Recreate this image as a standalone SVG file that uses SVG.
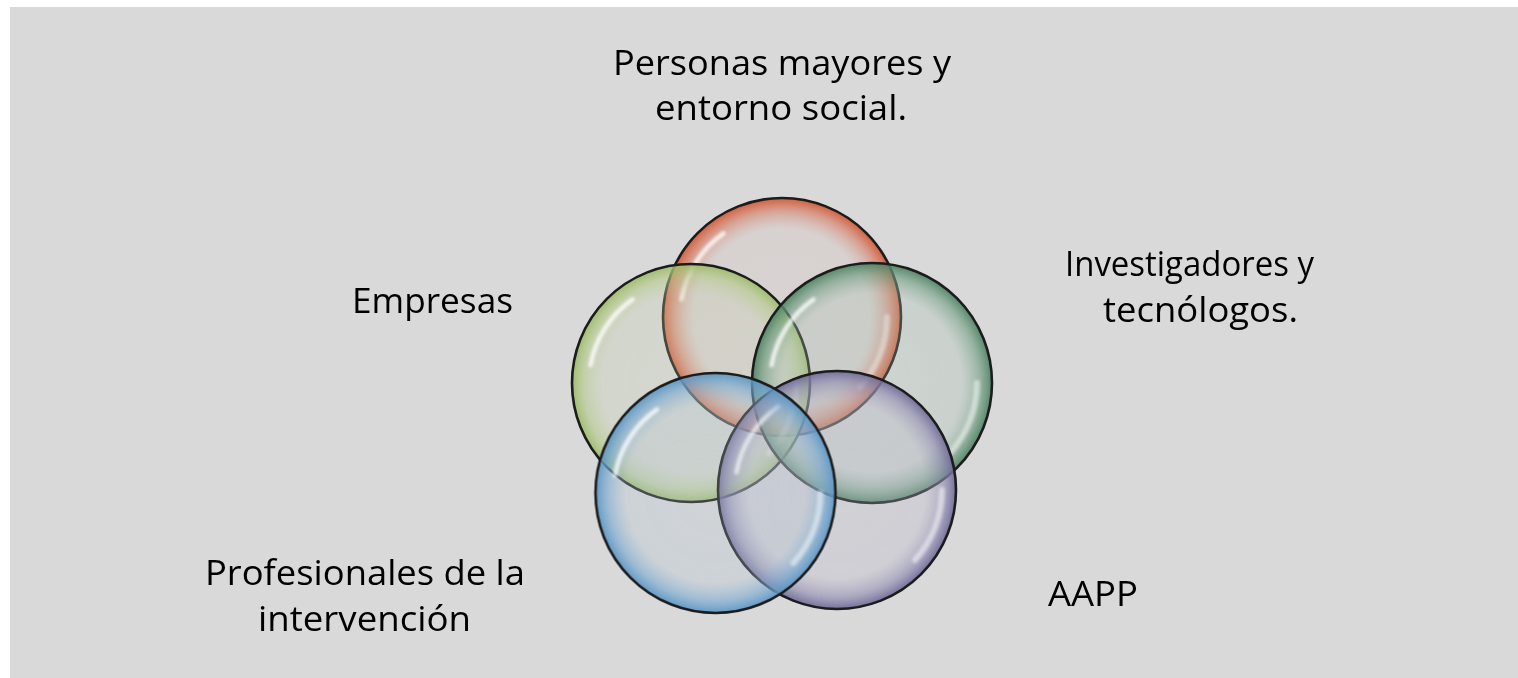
<svg xmlns="http://www.w3.org/2000/svg" width="1518" height="678" viewBox="0 0 1518 678">
<style>
.lbl{font-family:"Open Sans","Liberation Sans",sans-serif;font-size:35px;fill:#000}
.ring{stroke:#1c1c1c;stroke-width:2.6}
.hl1{fill:none;stroke:#fff;stroke-width:4.5;stroke-linecap:round;opacity:.8}
.hl2{fill:none;stroke:#fff;stroke-width:6;stroke-linecap:round;opacity:.5}
</style>
<defs>
<filter id="blur" x="-20%" y="-20%" width="140%" height="140%"><feGaussianBlur stdDeviation="1.8"/></filter>
<radialGradient id="gRed"><stop offset="0" stop-color="#d3bdb8" stop-opacity=".2"/><stop offset=".74" stop-color="#d3bdb8" stop-opacity=".28"/><stop offset=".9" stop-color="#d8745a" stop-opacity=".6"/><stop offset="1" stop-color="#cf5a36" stop-opacity=".95"/></radialGradient>
<radialGradient id="gYel"><stop offset="0" stop-color="#c6d0b0" stop-opacity=".2"/><stop offset=".74" stop-color="#c6d0b0" stop-opacity=".28"/><stop offset=".9" stop-color="#b3ca88" stop-opacity=".6"/><stop offset="1" stop-color="#9dba6a" stop-opacity=".95"/></radialGradient>
<radialGradient id="gGrn"><stop offset="0" stop-color="#aac2b4" stop-opacity=".22"/><stop offset=".74" stop-color="#aac2b4" stop-opacity=".3"/><stop offset=".9" stop-color="#6e9c80" stop-opacity=".62"/><stop offset="1" stop-color="#4f8264" stop-opacity=".95"/></radialGradient>
<radialGradient id="gBlu"><stop offset="0" stop-color="#b3c4d3" stop-opacity=".22"/><stop offset=".74" stop-color="#b3c4d3" stop-opacity=".3"/><stop offset=".9" stop-color="#76a8d0" stop-opacity=".62"/><stop offset="1" stop-color="#5b95c4" stop-opacity=".95"/></radialGradient>
<radialGradient id="gPur"><stop offset="0" stop-color="#bcb9cc" stop-opacity=".24"/><stop offset=".74" stop-color="#bcb9cc" stop-opacity=".32"/><stop offset=".9" stop-color="#8e8ab0" stop-opacity=".62"/><stop offset="1" stop-color="#6f6a98" stop-opacity=".95"/></radialGradient>
<g id="shine" filter="url(#blur)">
<path class="hl1" d="M -100.5 -17.7 A 102 102 0 0 1 -58.5 -83.6"/>
<path class="hl2" d="M 105 0 A 105 105 0 0 1 78 70"/>
</g>
</defs>
<rect x="10" y="7" width="1508" height="671" fill="#d9d9d9"/>
<g id="node-personas" transform="translate(782 317)">
<circle r="119" fill="url(#gRed)" class="ring"/>
<use href="#shine"/>
</g>
<g id="node-empresas" transform="translate(691 383)">
<circle r="119" fill="url(#gYel)" class="ring"/>
<use href="#shine"/>
</g>
<g id="node-investigadores" transform="translate(872 383)">
<circle r="120" fill="url(#gGrn)" class="ring"/>
<use href="#shine"/>
</g>
<g id="node-aapp" transform="translate(837 490)">
<circle r="119" fill="url(#gPur)" class="ring"/>
<use href="#shine"/>
</g>
<g id="node-profesionales" transform="translate(715.5 493)">
<circle r="120" fill="url(#gBlu)" class="ring"/>
<use href="#shine"/>
</g>
<g id="connectors"></g>
<g id="labels">
<text class="lbl" x="613" y="75" textLength="338" lengthAdjust="spacingAndGlyphs">Personas mayores y</text>
<text class="lbl" x="655" y="120" textLength="252" lengthAdjust="spacingAndGlyphs">entorno social.</text>
<text class="lbl" x="1065" y="276" textLength="249" lengthAdjust="spacingAndGlyphs">Investigadores y</text>
<text class="lbl" x="1103" y="322" textLength="195" lengthAdjust="spacingAndGlyphs">tecnólogos.</text>
<text class="lbl" x="352" y="313" textLength="161" lengthAdjust="spacingAndGlyphs">Empresas</text>
<text class="lbl" x="205" y="585" textLength="320" lengthAdjust="spacingAndGlyphs">Profesionales de la</text>
<text class="lbl" x="258" y="631" textLength="213" lengthAdjust="spacingAndGlyphs">intervención</text>
<text class="lbl" x="1048" y="606" textLength="90" lengthAdjust="spacingAndGlyphs">AAPP</text>
</g>
</svg>
